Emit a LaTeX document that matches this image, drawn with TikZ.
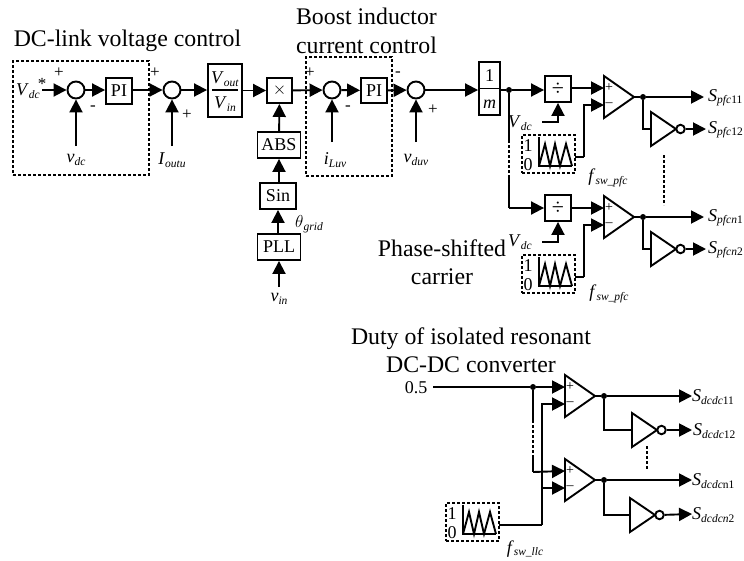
\documentclass[tikz,border=0pt]{standalone}
\usepackage{fontspec}
\setmainfont{Liberation Serif}
\usetikzlibrary{arrows.meta}
% font sizes
\newcommand{\bigtxt}{\fontsize{23.8}{28.5}\selectfont}
\newcommand{\midtxt}{\fontsize{18}{20}\selectfont}
\newcommand{\smalltxt}{\fontsize{11.5}{13}\selectfont}
\newcommand{\sig}[2]{\textit{#1}\raisebox{-2.5pt}{\smalltxt\textit{#2}}}
\newcommand{\sigup}[1]{\raisebox{-2.5pt}{\smalltxt #1}}
\tikzset{
  line/.style={line width=1.9pt},
  arrowline/.style={line, -{Triangle[length=13pt,width=13pt]}},
  dashbox/.style={draw, line width=1.7pt, dash pattern=on 3pt off 2pt},
  dashline/.style={line width=1.9pt, dash pattern=on 3pt off 2pt},
  sumnode/.style={draw, circle, line width=1.9pt, minimum size=17pt, inner sep=0pt},
  block/.style={draw, line width=1.9pt, inner sep=0pt, font=\midtxt},
  dotnode/.style={fill, circle, inner sep=0pt, minimum size=6pt},
  title/.style={align=center, inner sep=0pt, font=\bigtxt},
  lab/.style={inner sep=0pt, font=\midtxt},
  sign/.style={inner sep=0pt, font=\fontsize{17}{18}\selectfont},
  cmpsign/.style={inner sep=0pt, font=\fontsize{14}{14}\selectfont},
  pics/comparator/.style={code={
    \draw[line, line join=miter] (0,0) -- (0,42) -- (30,21) -- cycle;
    \coordinate (-plus) at (0,12);
    \coordinate (-minus) at (0,29);
    \coordinate (-out) at (30,21);
    \node[cmpsign] (-ps) at (5,12) {+};
    \node[cmpsign] (-ms) at (5,29) {--};
  }},
  pics/inverter/.style={code={
    \draw[line, line join=miter] (0,0) -- (0,34) -- (25,17) -- cycle;
    \node[draw, circle, line width=1.9pt, minimum size=8.5pt, inner sep=0pt] (-bub) at (29.5,17) {};
    \coordinate (-in) at (0,17);
  }},
  pics/carrier/.style={code={
    \node[dashbox, minimum width=53pt, minimum height=38pt, inner sep=0pt] (-box) at (26.5,19) {};
    \node[lab] (-one) at (6,11) {1};
    \node[lab] (-zero) at (6,29.5) {0};
    \draw[line, line join=miter] (17,2) -- (17,31) -- (50,31);
    \draw[line, line join=miter] (17,31) -- (23,9) -- (28,31) -- (33,9) -- (38,31) -- (44,9) -- (50,31);
    \coordinate (-out) at (53,22);
  }}
}
\begin{document}
\begin{tikzpicture}[x=1pt, y=-1pt]
  \useasboundingbox (0,0) rectangle (744,560);
  \node[title] (ttlvolt) at (127.5,41) {DC-link voltage control};
  \node[title] (ttlcurr) at (366.5,31) {Boost inductor\\current control};
  \node[title] (ttlshift) at (442,262) {Phase-shifted\\carrier};
  \node[title] (ttlduty) at (471,350) {Duty of isolated resonant\\DC-DC converter};

  % voltage and current loop
  \node[dashbox, minimum width=136pt, minimum height=114pt, inner sep=0pt] (boxvolt) at (81,118) {};
  \node[dashbox, minimum width=86pt, minimum height=119pt, inner sep=0pt] (boxcurr) at (349,116.5) {};
  \node[lab] (vdcref) at (28,91) {\sig{V}{dc}};
  \node[sign] (star) at (42,84) {*};
  \coordinate (vdcend) at (42,90);
  \node[sumnode] (suma) at (76,90) {};
  \node[block, minimum width=26pt, minimum height=26pt] (pia) at (119,91) {PI};
  \node[sumnode] (sumb) at (172,90) {};
  \node[block, minimum width=34pt, minimum height=53pt] (vratio) at (225,90.5) {};
  \node[lab] (vout) at (225,79) {\sig{V}{out}};
  \node[lab] (vin) at (225,104) {\sig{V}{in}};
  \node[block, minimum width=25pt, minimum height=25pt] (mult) at (279.5,90.5) {$\times$};
  \node[block, minimum width=43pt, minimum height=26pt] (abs) at (279,145) {ABS};
  \node[block, minimum width=36pt, minimum height=26pt] (sinb) at (278,196) {Sin};
  \node[block, minimum width=43pt, minimum height=26pt] (pll) at (279,247) {PLL};
  \node[sumnode] (sumc) at (332,90) {};
  \node[block, minimum width=26pt, minimum height=25pt] (pib) at (374,90.5) {PI};
  \node[sumnode] (sumd) at (416,90) {};
  \node[block, minimum width=21pt, minimum height=53pt] (invm) at (489.5,88.5) {};
  \node[lab] (one) at (489.5,76) {1};
  \node[lab] (emm) at (489.5,104) {\textit{m}};
  \draw[line] (212,90) -- (238,90);
  \draw[line] (invm.west) -- (invm.east);

  \node[sign] (pa) at (59,73) {+};
  \node[sign] (ma) at (93,108) {-};
  \node[sign] (pb) at (155,73) {+};
  \node[sign] (mb) at (187,115) {+};
  \node[sign] (pc) at (310,73) {+};
  \node[sign] (mc) at (348,108) {-};
  \node[sign] (pd) at (398,74) {-};
  \node[sign] (md) at (433,110) {+};

  \node[lab] (vdcfb) at (76,160) {\sig{v}{dc}};
  \node[lab] (ioutu) at (172,160) {\sig{I}{outu}};
  \node[lab] (ilfb) at (335,160) {\sig{i}{Luv}};
  \node[lab] (vduv) at (416,160) {\sig{v}{duv}};
  \node[lab] (thgrid) at (309,224) {\sig{$\theta$}{grid}};
  \node[lab] (vinl) at (279,299) {\sig{v}{in}};
  \coordinate (vdcup) at (76,146);
  \coordinate (ioutup) at (172,146);
  \coordinate (ilup) at (332,142);
  \coordinate (vduvup) at (416,142);
  \coordinate (vinup) at (279,287);

  \draw[arrowline] (vdcend) -- (suma);
  \draw[arrowline] (suma) -- (pia.west |- suma);
  \draw[arrowline] (pia.east |- sumb) -- (sumb);
  \draw[arrowline] (sumb) -- (vratio.west |- sumb);
  \draw[arrowline] (vratio.east |- mult) -- (mult);
  \draw[arrowline] (mult) -- (sumc);
  \draw[arrowline] (sumc) -- (pib);
  \draw[arrowline] (pib) -- (sumd);
  \draw[arrowline] (sumd) -- (invm.west |- sumd);
  \draw[arrowline] (vdcup) -- (suma);
  \draw[arrowline] (ioutup) -- (sumb);
  \draw[arrowline] (ilup) -- (sumc);
  \draw[arrowline] (vduvup) -- (sumd);
  \draw[arrowline] (abs) -- (mult);
  \draw[arrowline] (sinb.north -| abs) -- (abs);
  \draw[arrowline] (pll.north -| sinb) -- (sinb);
  \draw[arrowline] (vinup) -- (pll.south);

  % PFC gate signals
  \node[dotnode] (juna) at (509,90) {};
  \node[block, minimum width=26pt, minimum height=26pt] (diva) at (558,89) {\fontsize{22}{22}\selectfont ÷};
  \node[block, minimum width=26pt, minimum height=26pt] (divb) at (558,208) {\fontsize{22}{22}\selectfont ÷};
  \pic (cmpa) at (604,76) {comparator};
  \pic (cmpb) at (604,196) {comparator};
  \pic (inva) at (651,112) {inverter};
  \pic (invb) at (651,232) {inverter};
  \pic (cara) at (522,135) {carrier};
  \pic (carb) at (522,255) {carrier};
  \node[dotnode] (junb) at (643,97) {};
  \node[dotnode] (junc) at (643,217) {};
  \node[lab] (vdca) at (520,123) {\sig{V}{dc}};
  \node[lab] (vdcb) at (520,242) {\sig{V}{dc}};
  \coordinate (vdcaend) at (542,122);
  \coordinate (vdcbend) at (542,242);
  \coordinate (bendcara) at (584,157);
  \coordinate (bendcarb) at (584,277);
  \coordinate (dasha) at (509,140);
  \coordinate (dashb) at (509,178);
  \coordinate (bendb) at (509,208);
  \coordinate (outa) at (704,97);
  \coordinate (outb) at (706,129);
  \coordinate (outc) at (704,217);
  \coordinate (outd) at (706,249);
  \coordinate (dotstop) at (664,155);
  \coordinate (dotsbot) at (664,205);
  \node[lab, anchor=west] (spa) at (708,98) {\sig{S}{pfc}\sigup{11}};
  \node[lab, anchor=west] (spb) at (708,130) {\sig{S}{pfc}\sigup{12}};
  \node[lab, anchor=west] (spc) at (708,218) {\sig{S}{pfcn}\sigup{1}};
  \node[lab, anchor=west] (spd) at (708,250) {\sig{S}{pfcn}\sigup{2}};
  \node[lab] (fswa) at (608,178) {\sig{f}{sw\_pfc}};
  \node[lab] (fswb) at (609,294) {\sig{f}{sw\_pfc}};

  \draw[line] (invm.east |- juna) -- (juna);
  \draw[arrowline] (juna) -- (diva.west |- juna);
  \draw[line] (juna) -- (dasha);
  \draw[dashline] (dasha) -- (dashb);
  \draw[line] (dashb) -- (bendb);
  \draw[arrowline] (bendb) -- (divb);
  \draw[arrowline] (diva.east |- cmpa-plus) -- (cmpa-plus);
  \draw[arrowline] (divb.east |- cmpb-plus) -- (cmpb-plus);
  \draw[arrowline] (vdcaend) -| (diva);
  \draw[arrowline] (vdcbend) -| (divb);
  \draw[line] (cara-out) -- (bendcara);
  \draw[line] (carb-out) -- (bendcarb);
  \draw[arrowline] (bendcara) |- (cmpa-minus);
  \draw[arrowline] (bendcarb) |- (cmpb-minus);
  \draw[line] (cmpa-out) -- (junb);
  \draw[line] (cmpb-out) -- (junc);
  \draw[arrowline] (junb) -- (outa);
  \draw[arrowline] (junc) -- (outc);
  \draw[line] (junb) |- (inva-in);
  \draw[line] (junc) |- (invb-in);
  \draw[arrowline] (inva-bub) -- (outb);
  \draw[arrowline] (invb-bub) -- (outd);
  \draw[dashline] (dotstop) -- (dotsbot);

  % DC-DC gate signals
  \node[lab] (half) at (416,388) {0.5};
  \node[dotnode] (jund) at (533,387) {};
  \pic (cmpc) at (565,375) {comparator};
  \pic (cmpd) at (565,459) {comparator};
  \pic (invc) at (632,413) {inverter};
  \pic (invd) at (630,498) {inverter};
  \pic (carc) at (446,503) {carrier};
  \node[dotnode] (june) at (604,396) {};
  \node[dotnode] (junf) at (604,480) {};
  \coordinate (halfend) at (433,387);
  \coordinate (dashc) at (533,420);
  \coordinate (dashd) at (533,457);
  \coordinate (bendc) at (533,472);
  \coordinate (bendd) at (542,525);
  \coordinate (outg) at (692,396);
  \coordinate (outh) at (692,430);
  \coordinate (outi) at (692,480);
  \coordinate (outj) at (692,514);
  \coordinate (dotstopb) at (647,446);
  \coordinate (dotsbotb) at (647,470);
  \node[lab, anchor=west] (sda) at (692,397) {\sig{S}{dcdc}\sigup{11}};
  \node[lab, anchor=west] (sdb) at (693,431) {\sig{S}{dcdc}\sigup{12}};
  \node[lab, anchor=west] (sdc) at (692,481) {\sig{S}{dcdc}\sigup{n1}};
  \node[lab, anchor=west] (sdd) at (692,515) {\sig{S}{dcdcn}\sigup{2}};
  \node[lab] (fswc) at (525,549) {\sig{f}{sw\_llc}};

  \draw[line] (halfend) -- (jund);
  \draw[arrowline] (jund) -- (cmpc-plus);
  \draw[line] (jund) -- (dashc);
  \draw[dashline] (dashc) -- (dashd);
  \draw[line] (dashd) -- (bendc);
  \draw[arrowline] (bendc) -- (cmpd-plus);
  \draw[line] (carc-out) -- (bendd);
  \draw[arrowline] (bendd) |- (cmpc-minus);
  \draw[arrowline] (bendd |- cmpd-minus) -- (cmpd-minus);
  \draw[line] (cmpc-out) -- (june);
  \draw[line] (cmpd-out) -- (junf);
  \draw[arrowline] (june) -- (outg);
  \draw[arrowline] (junf) -- (outi);
  \draw[line] (june) |- (invc-in);
  \draw[line] (junf) |- (invd-in);
  \draw[arrowline] (invc-bub) -- (outh);
  \draw[arrowline] (invd-bub) -- (outj);
  \draw[dashline] (dotstopb) -- (dotsbotb);
\end{tikzpicture}
\end{document}
